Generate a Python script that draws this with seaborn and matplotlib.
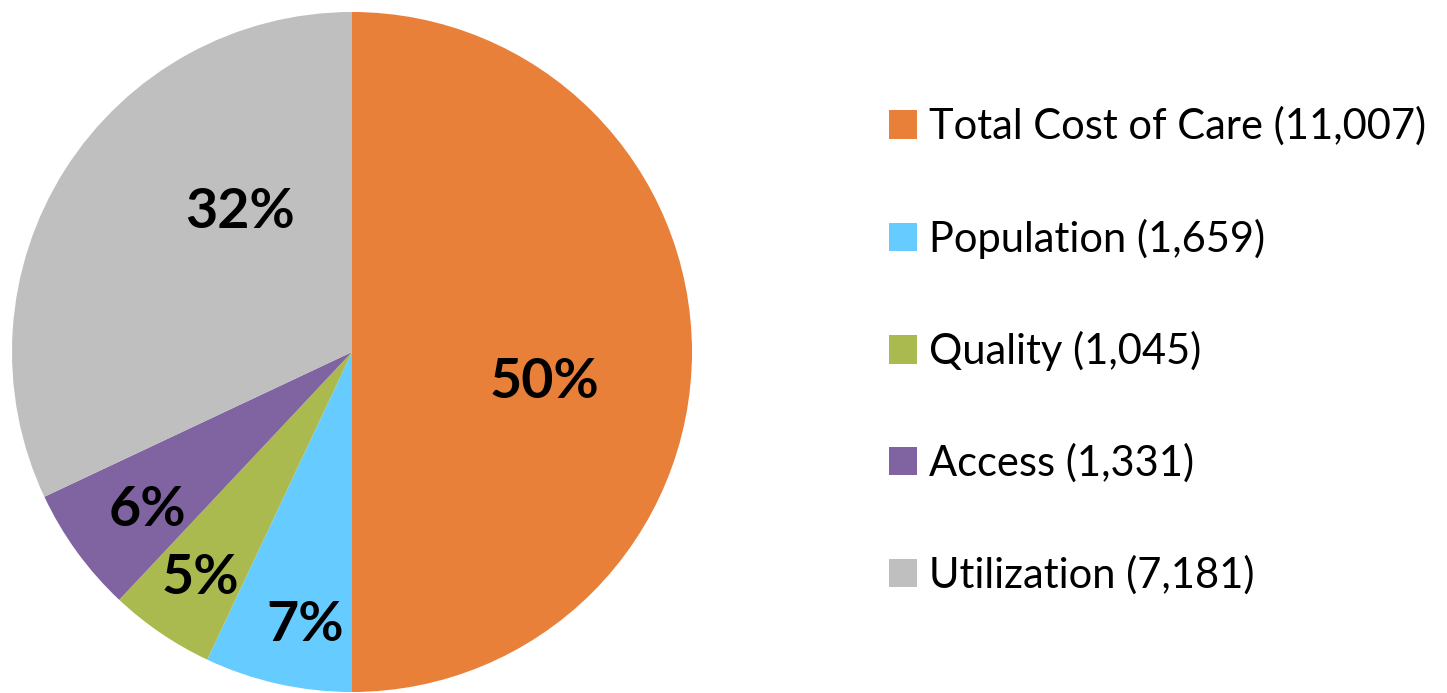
import numpy as np
import matplotlib
matplotlib.use("Agg")
import matplotlib.pyplot as plt
import seaborn as sns
from matplotlib.patches import Patch

categories = ["Total Cost of Care", "Population", "Quality", "Access", "Utilization"]
counts = [11007, 1659, 1045, 1331, 7181]
shares = [50, 7, 5, 6, 32]
colors = ["#E8803A", "#66CCFF", "#AABA4E", "#8064A2", "#BFBFBF"]

# label placement styling (radius fraction, angle offset in degrees)
label_r = [0.574, 0.815, 0.80, 0.76, 0.527]
label_dang = [-8.8, 2.8, 0.4, 1.6, -18.9]

sns.set_theme(style="white")
plt.rcParams['font.family'] = ['Lato', 'DejaVu Sans']

W, H = 1447, 693
fig = plt.figure(figsize=(W / 100, H / 100), dpi=100)
ax = fig.add_axes([12 / W, 1 / H, 680 / W, 680 / H])

wedges, _ = ax.pie(shares, colors=colors, startangle=90, counterclock=False,
                   radius=1.0, wedgeprops=dict(linewidth=0))
ax.set_xlim(-1, 1)
ax.set_ylim(-1, 1)
ax.set_aspect("equal")
ax.axis("off")

for w, s, r, da in zip(wedges, shares, label_r, label_dang):
    mid = np.deg2rad((w.theta1 + w.theta2) / 2 + da)
    ax.text(r * np.cos(mid), r * np.sin(mid), f"{s}%", ha="center", va="center",
            fontsize=40, fontweight="bold", color="black")

handles = [Patch(facecolor=c, edgecolor="none") for c in colors]
labels = [f"{c} ({v:,})" for c, v in zip(categories, counts)]
fig.legend(handles, labels, loc="upper left", bbox_to_anchor=(872 / W, 1 - 90 / H),
           frameon=False, fontsize=30, handlelength=0.67, handleheight=0.67,
           handletextpad=0.29, labelspacing=1.735, borderaxespad=0,
           labelcolor="black")

fig.savefig("out.png", dpi=100)
